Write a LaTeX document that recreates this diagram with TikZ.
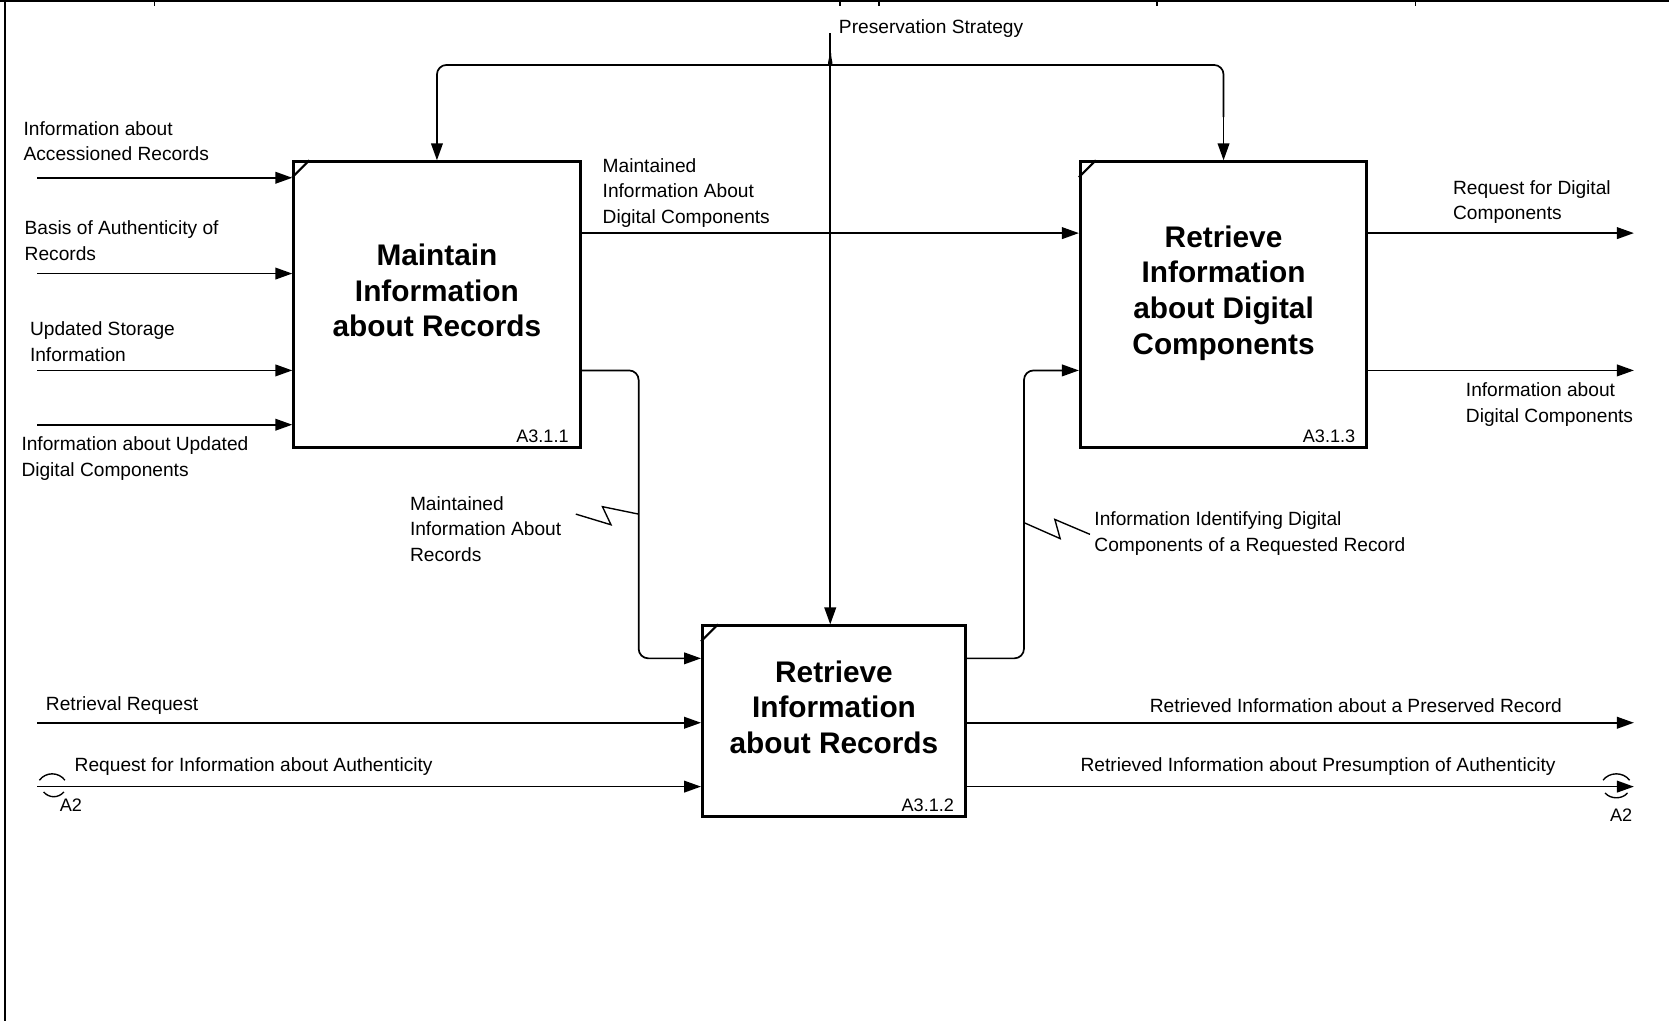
\documentclass[tikz,border=0pt]{standalone}
\usepackage{fontspec}
\setmainfont{Liberation Sans}
\usetikzlibrary{arrows.meta,calc}
\tikzset{
  lbl/.style={inner sep=0pt, align=left, anchor=west, font=\fontsize{18}{24}\selectfont},
  func/.style={draw, line width=2.8pt, inner sep=0pt},
  ftitle/.style={inner sep=0pt, align=center, font=\fontsize{28}{33.5}\selectfont\bfseries},
  fid/.style={inner sep=0pt, anchor=base east, font=\fontsize{17}{20}\selectfont},
  arr/.style={line width=1.6pt, -{Triangle[length=16pt,width=11pt]}},
  ln/.style={line width=1.6pt},
  frame/.style={line width=2.2pt},
}
\begin{document}
\begin{tikzpicture}[x=1pt,y=-1pt]
\useasboundingbox (0,0) rectangle (1568,959);
% frame
\draw[frame] (0,1) -- (1568,1);
\draw[frame] (5,0) -- (5,959);
\foreach \t in {145,789,826,1087,1330} \draw[line width=1.4pt] (\t,1) -- (\t,6);

% boxes
\node[func, minimum width=269pt, minimum height=268pt] (b1) at (410.5,286) {};
\node[func, minimum width=247pt, minimum height=179pt] (b2) at (783.5,677.5) {};
\node[func, minimum width=269pt, minimum height=268pt] (b3) at (1149.5,286) {};
\node[ftitle] (t1) at (410.5,273) {Maintain\\Information\\about Records};
\node[ftitle] (t2) at (783.5,664.5) {Retrieve\\Information\\about Records};
\node[ftitle] (t3) at (1149.5,275.3) {Retrieve\\Information\\about Digital\\Components};
\foreach \b in {b1,b2,b3}{
  \draw[line width=2pt] ($(\b.north west)+(0,16)$) -- ($(\b.north west)+(16,0)$);
}
\node[fid] (id1) at ($(b1.south east)+(-12,-6)$) {A3.1.1};
\node[fid] (id2) at ($(b2.south east)+(-12,-6)$) {A3.1.2};
\node[fid] (id3) at ($(b3.south east)+(-12,-6)$) {A3.1.3};

% inputs to box 1
\coordinate (i1) at (35,167);
\coordinate (i2) at (35,257);
\coordinate (i3) at (35,348);
\coordinate (i4) at (35,399);
\draw[arr] (i1) -- (i1 -| b1.west);
\draw[arr] (i2) -- (i2 -| b1.west);
\draw[arr] (i3) -- (i3 -| b1.west);
\draw[arr] (i4) -- (i4 -| b1.west);
\node[lbl] (l1) at (22,132.5) {Information about\\Accessioned Records};
\node[lbl] (l2) at (23,226) {Basis of Authenticity of\\Records};
\node[lbl] (l3) at (28,321) {Updated Storage\\Information};
\node[lbl] (l4) at (20,431) {Information about Updated\\Digital Components};

% preservation strategy
\coordinate (ps) at (780,31);
\coordinate (fork) at (780,50);
\draw[arr] (ps) -- (ps |- b2.north);
\draw[ln, rounded corners=9] (fork) .. controls (780,57) and (777,61) .. (771,61) -- (b1.north |- 0,61) -- (b1.north |- 0,110);
\draw[arr] (b1.north |- 0,100) -- (b1.north);
\draw[ln, rounded corners=9] (fork) .. controls (780,57) and (783,61) .. (789,61) -- (b3.north |- 0,61) -- (b3.north |- 0,110);
\draw[arr] (b3.north |- 0,100) -- (b3.north);
\node[lbl] (lps) at (788,27) {Preservation Strategy};

% box1 -> box3
\draw[arr] (b1.east |- 0,219) -- (b3.west |- 0,219);
\node[lbl] (l5) at (566,181) {Maintained\\Information About\\Digital Components};

% box1 -> box2
\draw[arr, rounded corners=9] (b1.east |- 0,348) -- (600,348) -- (600,618.5) -- (b2.west |- 0,618.5);
\node[lbl] (l9) at (385,497) {Maintained\\Information About\\Records};
\draw[ln, line width=1.3pt] (541,483) -- (574,493) -- (566,476) -- (600,483);

% box2 -> box3
\draw[arr, rounded corners=9] (b2.east |- 0,618.5) -- (962,618.5) -- (962,348) -- (b3.west |- 0,348);
\node[lbl] (l10) at (1028,501) {Information Identifying Digital\\Components of a Requested Record};
\draw[ln, line width=1.3pt] (962,491) -- (996,506) -- (991,488) -- (1024,502);

% box3 outputs
\coordinate (o1) at (1535,219);
\coordinate (o2) at (1535,348);
\draw[arr] (o1 -| b3.east) -- (o1);
\draw[arr] (o2 -| b3.east) -- (o2);
\node[lbl] (l7) at (1365,190) {Request for Digital\\Components};
\node[lbl] (l8) at (1377,380) {Information about\\Digital Components};

% box2 inputs
\coordinate (i5) at (35,679);
\coordinate (i6) at (35,739);
\draw[arr] (i5) -- (i5 -| b2.west);
\draw[arr] (i6) -- (i6 -| b2.west);
\node[lbl] (l11) at (43,663) {Retrieval Request};
\node[lbl] (l12) at (70,720) {Request for Information about Authenticity};
\draw[line width=1.3pt] (37,733) .. controls (43,725) and (55,725) .. (61,733);
\draw[line width=1.3pt] (41,744) .. controls (46,750) and (55,750) .. (60,744);
\node[lbl, font=\fontsize{17}{20}\selectfont] (a2l) at (56,756) {A2};

% box2 outputs
\coordinate (o3) at (1535,679);
\coordinate (o4) at (1535,739);
\draw[arr] (o3 -| b2.east) -- (o3);
\draw[arr] (o4 -| b2.east) -- (o4);
\node[lbl] (l14) at (1080,663) {Retrieved Information about a Preserved Record};
\node[lbl] (l15) at (1015,720) {Retrieved Information about Presumption of Authenticity};
\draw[line width=1.3pt] (1506,733) .. controls (1512,725) and (1525,725) .. (1531,733);
\draw[line width=1.3pt] (1508,745) .. controls (1513,751) and (1524,751) .. (1529,745);
\node[inner sep=0pt, font=\fontsize{17}{20}\selectfont] (a2r) at (1523,766) {A2};
\end{tikzpicture}
\end{document}
